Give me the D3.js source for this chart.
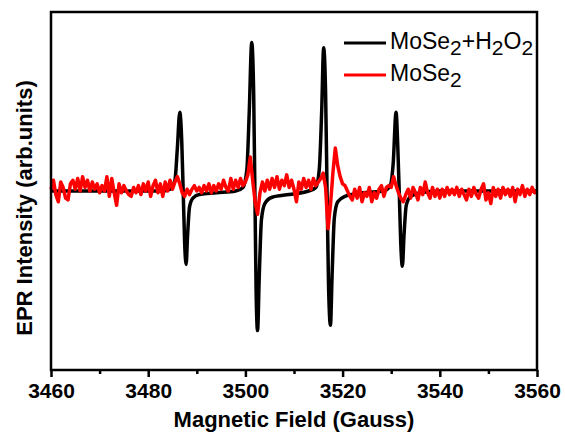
<!DOCTYPE html>
<html>
<head>
<meta charset="utf-8">
<script src="https://cdn.jsdelivr.net/npm/d3@7"></script>
<style>
    body { margin: 0; background: #fff; }
    text { font-family: "Liberation Sans", Arial, sans-serif; }
</style>
</head>
<body>
<div id="chart"></div>
<script>
// x axis
var X_DOMAIN = [3460, 3560];
var xMajorTicks = [3460, 3480, 3500, 3520, 3540, 3560];
var xMinorTicks = [3470, 3490, 3510, 3530, 3550];

// MoSe2+H2O2 spectrum, [field (G), intensity (arb.)]
var h2o2Points = [
    [3460, 0], [3483, 0], [3484.5, 0.1], [3485.5, 0.6], [3486.0, 2.4], [3486.5, 4.4], [3486.9, 2.8],
    [3487.2, 0], [3487.5, -2.9], [3487.8, -4.1], [3488.1, -2.5], [3488.5, -0.9], [3489.2, -0.4],
    [3490.5, -0.2], [3494, -0.1], [3498, 0.0], [3499.5, 0.2], [3500.3, 1.2], [3500.8, 4.5],
    [3501.3, 8.3], [3501.7, 5.5], [3501.95, 0], [3502.2, -5.5], [3502.5, -7.8], [3502.85, -4.8],
    [3503.3, -1.6], [3504, -0.7], [3505.5, -0.35], [3509, -0.2], [3513, 0.0], [3514.5, 0.2],
    [3515.2, 1.2], [3515.7, 4.5], [3516.1, 8.0], [3516.5, 5.5], [3516.8, 0], [3517.1, -5.2],
    [3517.5, -7.5], [3517.85, -4.6], [3518.3, -1.5], [3519, -0.6], [3520.5, -0.3], [3524, -0.1],
    [3528.5, 0.0], [3529.8, 0.3], [3530.4, 1.5], [3531.0, 4.4], [3531.35, 2.5], [3531.65, 0],
    [3531.95, -2.8], [3532.3, -4.2], [3532.65, -2.4], [3533.1, -0.8], [3534, -0.3], [3536, -0.1],
    [3540, 0], [3560, 0]
];

// MoSe2 spectrum, sampled every 0.5 G from 3460 G
var MOSE2_START = 3460;
var MOSE2_STEP = 0.5;
var mose2Values = [
    0.1, 0.6, -0.2, -0.6, 0.5, 0.2, -0.4, -0.5, 0.4, 0.6,
    0.1, 0.7, 0.0, 0.8, 0.2, 0.6, 0.0, 0.5, 0.1, 0.4,
    -0.1, 0.3, 0.0, 0.8, -0.3, 0.7, -0.1, -0.8, 0.4, -0.1,
    0.3, 0.0, -0.2, -0.3, 0.2, -0.1, 0.3, -0.2, 0.4, 0.0,
    0.5, -0.3, 0.3, 0.6, -0.1, 0.4, -0.3, 0.5, 0.0, 0.6,
    0.1, 0.5, 0.8, 0.4, -0.1, -0.3, 0.1, -0.2, 0.1, 0.3,
    0.0, 0.2, -0.1, 0.3, 0.0, 0.4, -0.1, 0.3, 0.0, 0.4,
    0.1, 0.6, 0.2, 0.0, 0.7, 0.1, 0.6, 0.2, 0.7, 0.3,
    0.5, 0.9, 1.9, 0.6, -0.6, -1.3, -0.1, 0.5, 0.0, 0.6,
    0.1, 0.7, 0.2, 0.8, 0.1, 0.6, 0.3, 0.9, 0.2, 0.6,
    0.1, -0.6, 0.5, 0.1, 0.7, 0.2, 0.6, 0.1, 0.7, 0.3,
    0.5, 0.7, 1.0, 0.2, -2.1, -0.8, 1.0, 2.4, 1.4, 0.8,
    0.4, 0.3, 0.0, -0.3, -0.5, 0.1, -0.4, 0.2, -0.6, -0.1,
    -0.3, 0.2, -0.6, -0.1, -0.4, 0.1, 0.3, -0.3, 0.2, 0.3,
    0.2, 0.8, 0.3, -0.1, -0.4, -0.6, -0.2, 0.1, -0.4, 0.2,
    -0.1, -0.5, 0.2, -0.2, 0.5, -0.1, -0.4, 0.2, -0.3, 0.1,
    -0.4, 0.1, -0.3, 0.2, -0.2, 0.1, -0.2, 0.2, -0.3, 0.1,
    -0.2, -0.5, 0.1, -0.3, 0.2, -0.2, -0.4, 0.1, 0.4, -0.5,
    -0.1, -0.7, 0.2, -0.3, 0.1, -0.4, 0.2, -0.2, 0.1, -0.3,
    0.2, -0.6, 0.1, -0.2, 0.3, -0.3, 0.1, -0.2, 0.2, -0.1,
    0.0
];

var seriesNames = ["MoSe2+H2O2", "MoSe2"];
var seriesColors = ["#000000", "#ff0000"];

var width = 565, height = 434;
var margin = {top: 12, right: 28, bottom: 64, left: 51};

var svg = d3.select("#chart")
    .append("svg")
    .attr("width", width)
    .attr("height", height);

var xScale = d3.scaleLinear()
    .domain(X_DOMAIN)
    .range([margin.left, width - margin.right]);

var yScale = d3.scaleLinear()
    .domain([-10, 10])
    .range([height - margin.bottom, margin.top]);

var smoothLine = d3.line()
    .x(function(d) { return xScale(d[0]); })
    .y(function(d) { return yScale(d[1]); })
    .curve(d3.curveMonotoneX);

var rawLine = d3.line()
    .x(function(d) { return xScale(d[0]); })
    .y(function(d) { return yScale(d[1]); });

var mose2Points = mose2Values.map(function(v, i) { return [MOSE2_START + i * MOSE2_STEP, v]; });

// spectra, red drawn over black
svg.append("path")
    .datum(h2o2Points)
    .attr("d", smoothLine)
    .attr("fill", "none")
    .attr("stroke", seriesColors[0])
    .attr("stroke-width", 3.5)
    .attr("stroke-linejoin", "round");

svg.append("path")
    .datum(mose2Points)
    .attr("d", rawLine)
    .attr("fill", "none")
    .attr("stroke", seriesColors[1])
    .attr("stroke-width", 3.5)
    .attr("stroke-linejoin", "round");

// x axis ticks (frame drawn separately)
var plotBottom = height - margin.bottom;

var majorAxis = svg.append("g")
    .attr("transform", "translate(0," + plotBottom + ")")
    .call(d3.axisBottom(xScale).tickValues(xMajorTicks).tickSize(7).tickPadding(6).tickFormat(d3.format("d")));

var minorAxis = svg.append("g")
    .attr("transform", "translate(0," + plotBottom + ")")
    .call(d3.axisBottom(xScale).tickValues(xMinorTicks).tickSize(4).tickFormat(""));

[majorAxis, minorAxis].forEach(function(g) {
    g.select(".domain").remove();
    g.selectAll(".tick line").attr("stroke", "#000").attr("stroke-width", 2.5);
});

majorAxis.selectAll(".tick text")
    .attr("fill", "#000")
    .style("font-size", "21px")
    .style("font-weight", "bold");

// frame
svg.append("rect")
    .attr("x", margin.left)
    .attr("y", margin.top)
    .attr("width", width - margin.left - margin.right)
    .attr("height", height - margin.top - margin.bottom)
    .attr("fill", "none")
    .attr("stroke", "#000")
    .attr("stroke-width", 2.5);

// axis titles
svg.append("text")
    .attr("x", (margin.left + width - margin.right) / 2)
    .attr("y", 427)
    .attr("text-anchor", "middle")
    .style("font-size", "22px")
    .style("font-weight", "bold")
    .text("Magnetic Field (Gauss)");

svg.append("text")
    .attr("transform", "translate(32," + 208 + ") rotate(-90)")
    .attr("text-anchor", "middle")
    .style("font-size", "22px")
    .style("font-weight", "bold")
    .text("EPR Intensity (arb.units)");

// legend, digits after element symbols drawn as subscripts
function addFormula(textSel, name) {
    var parts = name.match(/[A-Za-z+]+|\d+/g);
    var down = false;
    parts.forEach(function(p) {
        var isSub = /^\d+$/.test(p);
        var dy = 0;
        if (isSub && !down) { dy = 6; down = true; }
        else if (!isSub && down) { dy = -6; down = false; }
        textSel.append("tspan")
            .attr("dy", dy)
            .style("font-size", isSub ? "21px" : "23px")
            .text(p);
    });
}

var legend = svg.append("g");
var legendRows = [43, 75];

seriesNames.forEach(function(name, i) {
    legend.append("line")
        .attr("x1", 344)
        .attr("x2", 386)
        .attr("y1", legendRows[i])
        .attr("y2", legendRows[i])
        .attr("stroke", seriesColors[i])
        .attr("stroke-width", 3);

    var t = legend.append("text")
        .attr("x", 390)
        .attr("y", legendRows[i] + 6)
        .attr("fill", "#000");
    addFormula(t, name);
});
</script>
</body>
</html>
